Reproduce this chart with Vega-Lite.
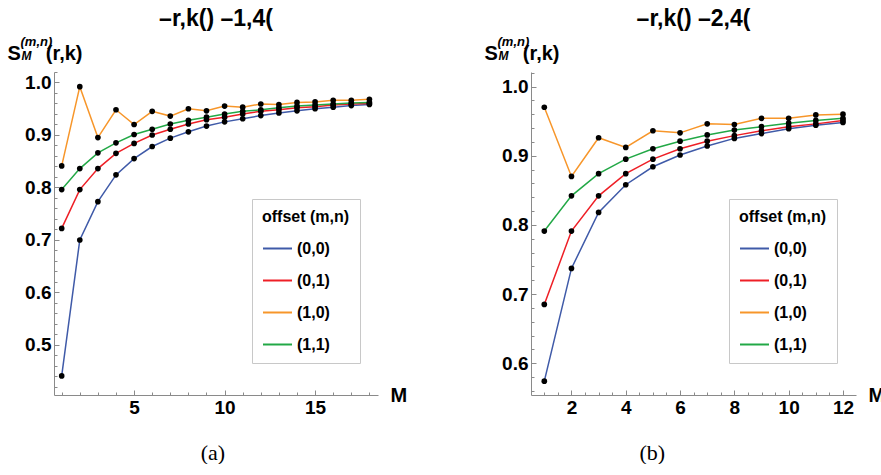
{
  "$schema": "https://vega.github.io/schema/vega-lite/v6.json",
  "padding": {"left": 7, "top": 8, "right": 0, "bottom": 0},
  "background": "white",
  "config": {
    "view": {"stroke": null},
    "font": "Liberation Sans",
    "axis": {"labelFontSize": 19, "labelFontWeight": "bold", "labelColor": "black", "domainColor": "#8a8a8a", "tickColor": "#8a8a8a", "grid": false, "titleColor": "black", "titleFontWeight": "bold", "titleFontSize": 20},
    "legend": {"titleFontSize": 16, "titleFontWeight": "bold", "titleColor": "black", "labelFontSize": 16, "labelFontWeight": "bold", "labelColor": "black", "symbolType": "stroke", "symbolSize": 841, "symbolStrokeWidth": 2, "rowPadding": 8, "labelOffset": 4, "padding": 10, "titlePadding": 8, "strokeColor": "#c8c8c8", "fillColor": "white"}
  },
  "datasets": {
    "A": [
      {"M":1,"S":0.441,"offset":"(0,0)"},{"M":2,"S":0.700,"offset":"(0,0)"},{"M":3,"S":0.773,"offset":"(0,0)"},{"M":4,"S":0.824,"offset":"(0,0)"},{"M":5,"S":0.855,"offset":"(0,0)"},{"M":6,"S":0.878,"offset":"(0,0)"},{"M":7,"S":0.894,"offset":"(0,0)"},{"M":8,"S":0.906,"offset":"(0,0)"},{"M":9,"S":0.917,"offset":"(0,0)"},{"M":10,"S":0.925,"offset":"(0,0)"},{"M":11,"S":0.931,"offset":"(0,0)"},{"M":12,"S":0.937,"offset":"(0,0)"},{"M":13,"S":0.942,"offset":"(0,0)"},{"M":14,"S":0.946,"offset":"(0,0)"},{"M":15,"S":0.950,"offset":"(0,0)"},{"M":16,"S":0.953,"offset":"(0,0)"},{"M":17,"S":0.956,"offset":"(0,0)"},{"M":18,"S":0.958,"offset":"(0,0)"},
      {"M":1,"S":0.722,"offset":"(0,1)"},{"M":2,"S":0.796,"offset":"(0,1)"},{"M":3,"S":0.836,"offset":"(0,1)"},{"M":4,"S":0.865,"offset":"(0,1)"},{"M":5,"S":0.884,"offset":"(0,1)"},{"M":6,"S":0.900,"offset":"(0,1)"},{"M":7,"S":0.911,"offset":"(0,1)"},{"M":8,"S":0.921,"offset":"(0,1)"},{"M":9,"S":0.929,"offset":"(0,1)"},{"M":10,"S":0.934,"offset":"(0,1)"},{"M":11,"S":0.940,"offset":"(0,1)"},{"M":12,"S":0.945,"offset":"(0,1)"},{"M":13,"S":0.948,"offset":"(0,1)"},{"M":14,"S":0.952,"offset":"(0,1)"},{"M":15,"S":0.954,"offset":"(0,1)"},{"M":16,"S":0.957,"offset":"(0,1)"},{"M":17,"S":0.959,"offset":"(0,1)"},{"M":18,"S":0.960,"offset":"(0,1)"},
      {"M":1,"S":0.841,"offset":"(1,0)"},{"M":2,"S":0.992,"offset":"(1,0)"},{"M":3,"S":0.895,"offset":"(1,0)"},{"M":4,"S":0.948,"offset":"(1,0)"},{"M":5,"S":0.920,"offset":"(1,0)"},{"M":6,"S":0.945,"offset":"(1,0)"},{"M":7,"S":0.936,"offset":"(1,0)"},{"M":8,"S":0.950,"offset":"(1,0)"},{"M":9,"S":0.946,"offset":"(1,0)"},{"M":10,"S":0.955,"offset":"(1,0)"},{"M":11,"S":0.953,"offset":"(1,0)"},{"M":12,"S":0.959,"offset":"(1,0)"},{"M":13,"S":0.958,"offset":"(1,0)"},{"M":14,"S":0.962,"offset":"(1,0)"},{"M":15,"S":0.963,"offset":"(1,0)"},{"M":16,"S":0.966,"offset":"(1,0)"},{"M":17,"S":0.966,"offset":"(1,0)"},{"M":18,"S":0.968,"offset":"(1,0)"},
      {"M":1,"S":0.796,"offset":"(1,1)"},{"M":2,"S":0.836,"offset":"(1,1)"},{"M":3,"S":0.866,"offset":"(1,1)"},{"M":4,"S":0.885,"offset":"(1,1)"},{"M":5,"S":0.901,"offset":"(1,1)"},{"M":6,"S":0.911,"offset":"(1,1)"},{"M":7,"S":0.921,"offset":"(1,1)"},{"M":8,"S":0.928,"offset":"(1,1)"},{"M":9,"S":0.934,"offset":"(1,1)"},{"M":10,"S":0.940,"offset":"(1,1)"},{"M":11,"S":0.945,"offset":"(1,1)"},{"M":12,"S":0.948,"offset":"(1,1)"},{"M":13,"S":0.952,"offset":"(1,1)"},{"M":14,"S":0.955,"offset":"(1,1)"},{"M":15,"S":0.957,"offset":"(1,1)"},{"M":16,"S":0.959,"offset":"(1,1)"},{"M":17,"S":0.961,"offset":"(1,1)"},{"M":18,"S":0.962,"offset":"(1,1)"}
    ],
    "B": [
      {"M":1,"S":0.574,"offset":"(0,0)"},{"M":2,"S":0.737,"offset":"(0,0)"},{"M":3,"S":0.818,"offset":"(0,0)"},{"M":4,"S":0.858,"offset":"(0,0)"},{"M":5,"S":0.884,"offset":"(0,0)"},{"M":6,"S":0.901,"offset":"(0,0)"},{"M":7,"S":0.914,"offset":"(0,0)"},{"M":8,"S":0.925,"offset":"(0,0)"},{"M":9,"S":0.932,"offset":"(0,0)"},{"M":10,"S":0.939,"offset":"(0,0)"},{"M":11,"S":0.944,"offset":"(0,0)"},{"M":12,"S":0.948,"offset":"(0,0)"},
      {"M":1,"S":0.685,"offset":"(0,1)"},{"M":2,"S":0.791,"offset":"(0,1)"},{"M":3,"S":0.842,"offset":"(0,1)"},{"M":4,"S":0.874,"offset":"(0,1)"},{"M":5,"S":0.895,"offset":"(0,1)"},{"M":6,"S":0.910,"offset":"(0,1)"},{"M":7,"S":0.921,"offset":"(0,1)"},{"M":8,"S":0.929,"offset":"(0,1)"},{"M":9,"S":0.936,"offset":"(0,1)"},{"M":10,"S":0.942,"offset":"(0,1)"},{"M":11,"S":0.946,"offset":"(0,1)"},{"M":12,"S":0.951,"offset":"(0,1)"},
      {"M":1,"S":0.970,"offset":"(1,0)"},{"M":2,"S":0.870,"offset":"(1,0)"},{"M":3,"S":0.926,"offset":"(1,0)"},{"M":4,"S":0.912,"offset":"(1,0)"},{"M":5,"S":0.936,"offset":"(1,0)"},{"M":6,"S":0.933,"offset":"(1,0)"},{"M":7,"S":0.946,"offset":"(1,0)"},{"M":8,"S":0.945,"offset":"(1,0)"},{"M":9,"S":0.954,"offset":"(1,0)"},{"M":10,"S":0.954,"offset":"(1,0)"},{"M":11,"S":0.959,"offset":"(1,0)"},{"M":12,"S":0.960,"offset":"(1,0)"},
      {"M":1,"S":0.791,"offset":"(1,1)"},{"M":2,"S":0.842,"offset":"(1,1)"},{"M":3,"S":0.874,"offset":"(1,1)"},{"M":4,"S":0.895,"offset":"(1,1)"},{"M":5,"S":0.910,"offset":"(1,1)"},{"M":6,"S":0.921,"offset":"(1,1)"},{"M":7,"S":0.930,"offset":"(1,1)"},{"M":8,"S":0.937,"offset":"(1,1)"},{"M":9,"S":0.942,"offset":"(1,1)"},{"M":10,"S":0.947,"offset":"(1,1)"},{"M":11,"S":0.951,"offset":"(1,1)"},{"M":12,"S":0.954,"offset":"(1,1)"}
    ]
  },
  "hconcat": [
    {
      "title": {"text": "(a)", "orient": "bottom", "anchor": "middle", "font": "Liberation Serif", "fontSize": 22, "fontWeight": "normal", "color": "black", "offset": 26, "dx": 6},
      "vconcat": [
        {
          "width": 324, "height": 323,
          "title": {"text": "–r,k() –1,4(", "fontSize": 23, "fontWeight": "bold", "anchor": "middle", "color": "black", "offset": 4},
          "data": {"name": "A"},
          "layer": [
            {
              "mark": {"type": "line", "strokeWidth": 1.5},
              "encoding": {
                "x": {"field": "M", "type": "quantitative", "scale": {"domain": [0.575, 18.475], "nice": false, "zero": false},
                      "axis": {"values": [5, 10, 15], "tickSize": -5, "labelPadding": 8, "title": "M", "titleX": 336, "titleY": 0, "titleAlign": "left", "titleBaseline": "middle", "titleAnchor": null}},
                "y": {"field": "S", "type": "quantitative", "scale": {"domain": [0.4046, 1.02], "nice": false, "zero": false},
                      "axis": {"values": [0.5, 0.6, 0.7, 0.8, 0.9, 1.0], "format": ".1f", "tickSize": -5, "labelPadding": 8, "title": "S\u2003\u2005(r,k)", "titleAngle": 0, "titleX": -47, "titleY": -13, "titleAlign": "left", "titleBaseline": "alphabetic"}},
                "color": {"field": "offset", "type": "nominal",
                          "scale": {"domain": ["(0,0)", "(0,1)", "(1,0)", "(1,1)"], "range": ["#3f5aa8", "#ee1f26", "#f7962a", "#22a846"]},
                          "legend": {"title": "offset (m,n)", "orient": "none", "legendX": 198, "legendY": 127}}
              }
            },
            {
              "mark": {"type": "point", "filled": true, "color": "black", "size": 32, "opacity": 1},
              "encoding": {
                "x": {"field": "M", "type": "quantitative",
                      "axis": {"orient": "bottom", "values": [1,2,3,4,6,7,8,9,11,12,13,14,16,17,18], "labels": false, "domain": false, "tickSize": -3, "title": "M", "titleFontSize": 12, "titleFontStyle": "italic", "titleX": -33, "titleY": -336, "titleAlign": "left", "titleBaseline": "alphabetic", "titleAnchor": null}},
                "y": {"field": "S", "type": "quantitative",
                      "axis": {"orient": "left", "values": [0.42,0.44,0.46,0.48,0.52,0.54,0.56,0.58,0.62,0.64,0.66,0.68,0.72,0.74,0.76,0.78,0.82,0.84,0.86,0.88,0.92,0.94,0.96,0.98,1.02], "labels": false, "domain": false, "tickSize": -3, "title": "(m,n)", "titleFontSize": 13, "titleFontStyle": "italic", "titleAngle": 0, "titleX": -34, "titleY": -27, "titleAlign": "left", "titleBaseline": "alphabetic"}}
              }
            }
          ],
          "resolve": {"axis": {"x": "independent", "y": "independent"}}
        }
      ]
    },
    {
      "title": {"text": "(b)", "orient": "bottom", "anchor": "middle", "font": "Liberation Serif", "fontSize": 22, "fontWeight": "normal", "color": "black", "offset": 26, "dx": -32},
      "vconcat": [
        {
          "width": 325, "height": 323,
          "title": {"text": "–r,k() –2,4(", "fontSize": 23, "fontWeight": "bold", "anchor": "middle", "color": "black", "offset": 4},
          "data": {"name": "B"},
          "layer": [
            {
              "mark": {"type": "line", "strokeWidth": 1.5},
              "encoding": {
                "x": {"field": "M", "type": "quantitative", "scale": {"domain": [0.51, 12.48], "nice": false, "zero": false},
                      "axis": {"values": [2, 4, 6, 8, 10, 12], "tickSize": -5, "labelPadding": 8, "title": "M", "titleX": 337, "titleY": 0, "titleAlign": "left", "titleBaseline": "middle", "titleAnchor": null}},
                "y": {"field": "S", "type": "quantitative", "scale": {"domain": [0.554, 1.021], "nice": false, "zero": false},
                      "axis": {"values": [0.6, 0.7, 0.8, 0.9, 1.0], "format": ".1f", "tickSize": -5, "labelPadding": 8, "title": "S\u2003\u2005(r,k)", "titleAngle": 0, "titleX": -47, "titleY": -13, "titleAlign": "left", "titleBaseline": "alphabetic"}},
                "color": {"field": "offset", "type": "nominal",
                          "scale": {"domain": ["(0,0)", "(0,1)", "(1,0)", "(1,1)"], "range": ["#3f5aa8", "#ee1f26", "#f7962a", "#22a846"]},
                          "legend": {"title": "offset (m,n)", "orient": "none", "legendX": 198, "legendY": 127}}
              }
            },
            {
              "mark": {"type": "point", "filled": true, "color": "black", "size": 32, "opacity": 1},
              "encoding": {
                "x": {"field": "M", "type": "quantitative",
                      "axis": {"orient": "bottom", "values": [1,1.5,2.5,3,3.5,4.5,5,5.5,6.5,7,7.5,8.5,9,9.5,10.5,11,11.5,12.5], "labels": false, "domain": false, "tickSize": -3, "title": "M", "titleFontSize": 12, "titleFontStyle": "italic", "titleX": -33, "titleY": -336, "titleAlign": "left", "titleBaseline": "alphabetic", "titleAnchor": null}},
                "y": {"field": "S", "type": "quantitative",
                      "axis": {"orient": "left", "values": [0.56,0.58,0.62,0.64,0.66,0.68,0.72,0.74,0.76,0.78,0.82,0.84,0.86,0.88,0.92,0.94,0.96,0.98,1.02], "labels": false, "domain": false, "tickSize": -3, "title": "(m,n)", "titleFontSize": 13, "titleFontStyle": "italic", "titleAngle": 0, "titleX": -34, "titleY": -27, "titleAlign": "left", "titleBaseline": "alphabetic"}}
              }
            }
          ],
          "resolve": {"axis": {"x": "independent", "y": "independent"}}
        }
      ]
    }
  ],
  "spacing": 77,
  "resolve": {"scale": {"color": "independent"}, "legend": {"color": "independent"}}
}
